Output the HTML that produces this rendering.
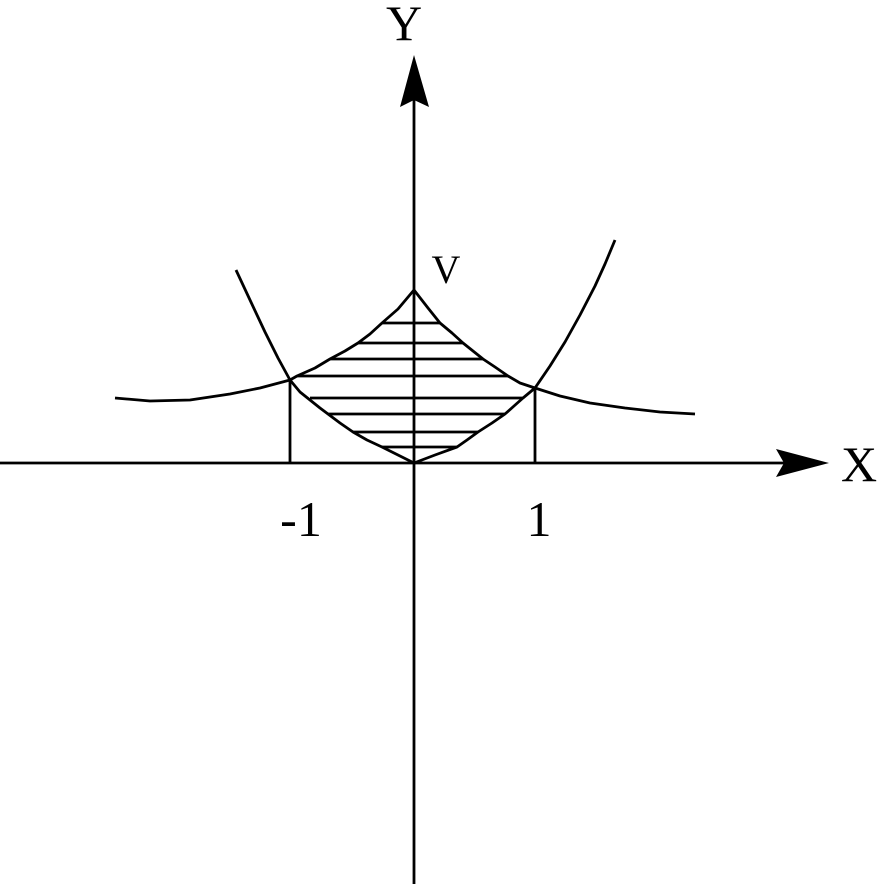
<!DOCTYPE html>
<html><head><meta charset="utf-8"><style>
html,body{margin:0;padding:0;background:#fff;}
svg{display:block;}
text{font-family:"Liberation Serif",serif;fill:#000;}
</style></head><body>
<svg width="883" height="884" viewBox="0 0 883 884" xmlns="http://www.w3.org/2000/svg">
<g stroke="#000" stroke-width="2.8" fill="none" stroke-linejoin="round" stroke-linecap="butt">
<line x1="0" y1="463" x2="800" y2="463"/>
<line x1="414" y1="884" x2="414" y2="90"/>
<!-- upward curve -->
<polyline points="236,270 250,300 265,332 278,358 290,380 300,392 310,400 320,408 328,414 340,423 353,432 367,440 382,447 398,455 414,463 435,455 457,447 467,440 478,432 492,423 505,414 514,406 523,398 535,388 550,366 565,342 580,315 595,286 605,264 615,240"/>
<!-- cusp curve -->
<polyline points="115,398 150,401 190,400 230,394 260,388 290,380 297,376 315,368 330,359 345,351 358,343 370,334 382,323 398,309 414,290 428,308 440,323 452,333 463,343 473,351 483,359 495,367 508,376 520,383 535,388 560,396 590,403 625,408 660,412 695,414"/>
<line x1="290" y1="380" x2="290" y2="463"/>
<line x1="535" y1="388" x2="535" y2="463"/>
<line x1="382" y1="323" x2="440" y2="323"/>
<line x1="358" y1="343" x2="463" y2="343"/>
<line x1="330" y1="359" x2="483" y2="359"/>
<line x1="297" y1="376" x2="508" y2="376"/>
<line x1="310" y1="398" x2="523" y2="398"/>
<line x1="328" y1="414" x2="505" y2="414"/>
<line x1="353" y1="432" x2="478" y2="432"/>
<line x1="382" y1="447" x2="457" y2="447"/>
</g>
<polygon points="414,55 429,107 414,100 400,107" fill="#000"/>
<polygon points="829,463 776,449 784,463 776,477" fill="#000"/>
<text x="404" y="40" font-size="50" text-anchor="middle">Y</text>
<text x="859" y="481" font-size="50" text-anchor="middle">X</text>
<text x="301" y="536" font-size="50" text-anchor="middle">-1</text>
<text x="539" y="536" font-size="50" text-anchor="middle">1</text>
<text x="446" y="283" font-size="40" text-anchor="middle">V</text>
</svg>
</body></html>
